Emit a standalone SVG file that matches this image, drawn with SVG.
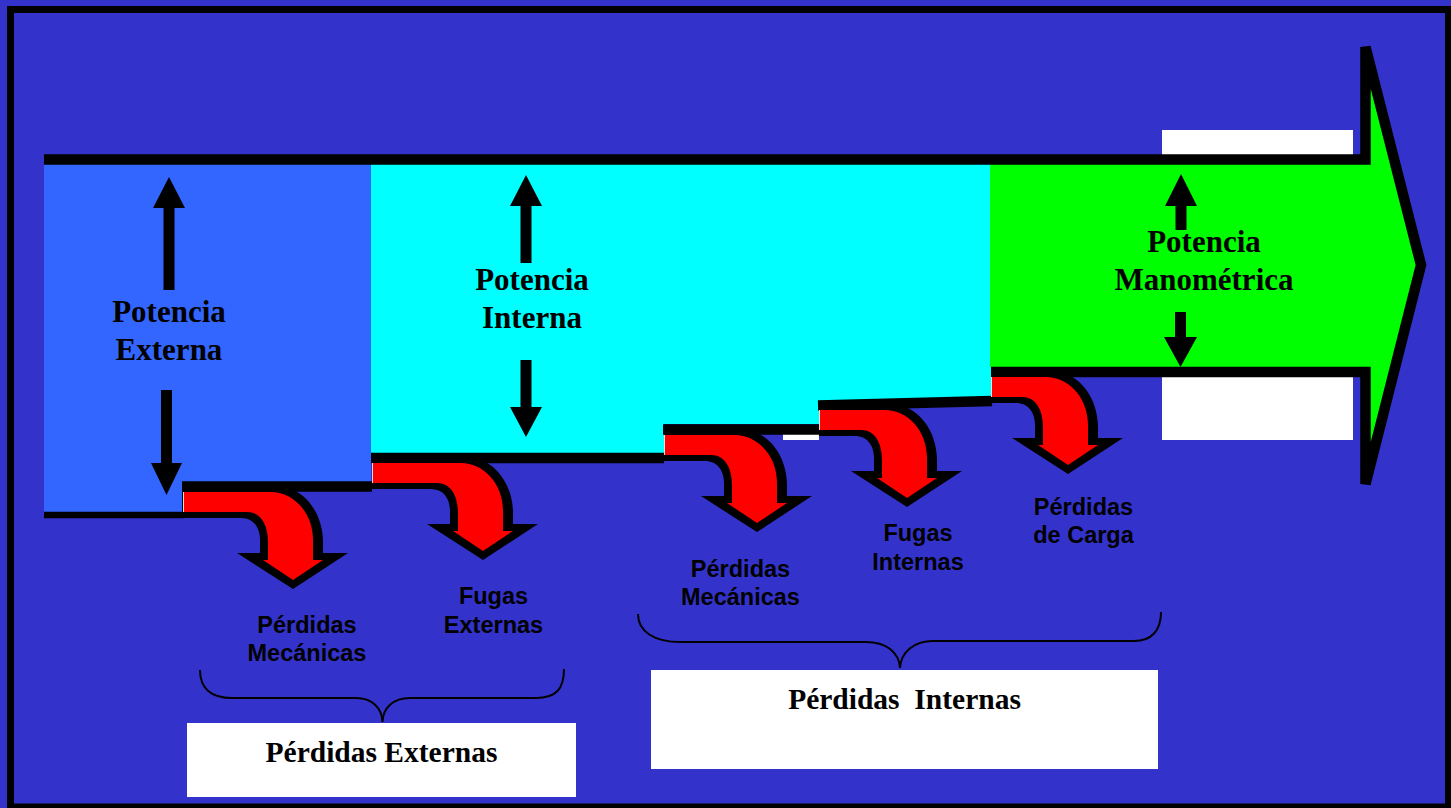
<svg xmlns="http://www.w3.org/2000/svg" width="1451" height="808" viewBox="0 0 1451 808">
<style>
.serif{font-family:"Liberation Serif","Times New Roman",serif;font-weight:bold;fill:#000;text-anchor:middle}
.big{font-size:31px}
.box{font-size:29.5px}
.sans{font-family:"Liberation Sans",Arial,sans-serif;font-weight:bold;font-size:23.5px;fill:#000;text-anchor:middle}
.blk{fill:#000}
.red{fill:#FF0000}
.edge{stroke:#E0E0E0;stroke-width:1}
.line{fill:none;stroke:#000;stroke-width:10.5;stroke-miterlimit:4}
.brace{fill:none;stroke:#000;stroke-width:2}
.wbox{fill:#FFFFFF}
</style>
<rect x="0" y="0" width="1451" height="808" fill="#3333CC"/>
<rect x="10.5" y="9.5" width="1438" height="797.5" fill="none" stroke="#000" stroke-width="7"/>

<g id="potencia-externa-region">
<polygon points="44,164 371,164 371,482 183,482 183,512 44,512" fill="#3366FF"/>
</g>
<g id="potencia-interna-region">
<polygon points="371,164 991,164 991,397 819,401 819,424 664,424 664,453 371,453" fill="#00FFFF"/>
</g>
<g id="potencia-manometrica-region">
<polygon points="990,164 1365,164 1365,47 1421,265 1365,484 1365,367 990,367" fill="#00FF00"/>
<rect class="wbox" x="1162" y="130" width="191" height="25"/>
<rect class="wbox" x="1162" y="377" width="191" height="63"/>
</g>
<rect class="wbox" x="783" y="434" width="36" height="6"/>

<g id="outline">
<path class="line" d="M44,159.5 L1365.5,159.5 L1365.5,47 L1421,265 L1365.5,484 L1365.5,372 L991,372"/>
<path class="line" d="M44,515 L184,515" style="stroke-width:6.5"/>
<path class="line" d="M182,486.5 L372,486.5"/>
<path class="line" d="M371,458 L664,458"/>
<path class="line" d="M663,429.5 L819,429.5"/>
<path class="line" d="M818,405.5 L992,401"/>
</g>

<g id="arrow-perdidas-mecanicas-ext" transform="translate(293,492)">
<path class="blk" d="M-111,-6 L-18,-6 C12,-6 30,22 30,50 L30,61 L55,61 L0,97 L-56,61 L-33,61 L-33,48 C-33,35 -40,26 -52,26 L-111,26 Z"/>
<path class="red" d="M-109,0 L-22,0 C0,0 20,20 20,48 L20,68 L30,68 L0,88 L-30,68 L-25,68 L-25,50 C-25,33 -32,20 -46,20 L-109,20 Z"/>
<line class="edge" x1="-109.5" y1="0" x2="-109.5" y2="20"/>
</g>
<g id="arrow-fugas-externas" transform="translate(483,463)">
<path class="blk" d="M-111,-6 L-18,-6 C12,-6 30,22 30,50 L30,61 L55,61 L0,97 L-56,61 L-33,61 L-33,48 C-33,35 -40,26 -52,26 L-111,26 Z"/>
<path class="red" d="M-110,0 L-22,0 C0,0 20,20 20,48 L20,68 L30,68 L0,88 L-30,68 L-25,68 L-25,50 C-25,33 -32,20 -46,20 L-110,20 Z"/>
<line class="edge" x1="-110.5" y1="0" x2="-110.5" y2="20"/>
</g>
<g id="arrow-perdidas-mecanicas-int" transform="translate(757,435)">
<path class="blk" d="M-93,-6 L-18,-6 C12,-6 30,22 30,50 L30,61 L55,61 L0,97 L-56,61 L-33,61 L-33,48 C-33,35 -40,26 -52,26 L-93,26 Z"/>
<path class="red" d="M-92,0 L-22,0 C0,0 20,20 20,48 L20,68 L30,68 L0,88 L-30,68 L-25,68 L-25,50 C-25,33 -32,20 -46,20 L-92,20 Z"/>
<line class="edge" x1="-92.5" y1="0" x2="-92.5" y2="20"/>
</g>
<g id="arrow-fugas-internas" transform="translate(907,410)">
<path class="blk" d="M-88,-6 L-18,-6 C12,-6 30,22 30,50 L30,61 L55,61 L0,97 L-56,61 L-33,61 L-33,48 C-33,35 -40,26 -52,26 L-88,26 Z"/>
<path class="red" d="M-87,0 L-22,0 C0,0 20,20 20,48 L20,68 L30,68 L0,88 L-30,68 L-25,68 L-25,50 C-25,33 -32,20 -46,20 L-87,20 Z"/>
<line class="edge" x1="-87.5" y1="0" x2="-87.5" y2="20"/>
</g>
<g id="arrow-perdidas-de-carga" transform="translate(1068,377)">
<path class="blk" d="M-77,-6 L-18,-6 C12,-6 30,22 30,50 L30,61 L55,61 L0,97 L-56,61 L-33,61 L-33,48 C-33,35 -40,26 -52,26 L-77,26 Z"/>
<path class="red" d="M-76,0 L-22,0 C0,0 20,20 20,48 L20,68 L30,68 L0,88 L-30,68 L-25,68 L-25,50 C-25,33 -32,20 -46,20 L-76,20 Z"/>
<line class="edge" x1="-76.5" y1="0" x2="-76.5" y2="20"/>
</g>

<g id="label-potencia-externa">
<polygon class="blk" points="169,177 185,208 174.5,208 174.5,290 163.5,290 163.5,208 153,208"/>
<polygon class="blk" points="161,390 172,390 172,463 182,463 166.5,495 151,463 161,463"/>
<text class="serif big" x="169" y="322">Potencia</text>
<text class="serif big" x="169" y="360">Externa</text>
</g>
<g id="label-potencia-interna">
<polygon class="blk" points="526,175 542,206 531.5,206 531.5,263 520.5,263 520.5,206 510,206"/>
<polygon class="blk" points="520.5,360 531.5,360 531.5,407 542,407 526,437 510,407 520.5,407"/>
<text class="serif big" x="532" y="290">Potencia</text>
<text class="serif big" x="532" y="328">Interna</text>
</g>
<g id="label-potencia-manometrica">
<polygon class="blk" points="1181,174 1197,206 1186.5,206 1186.5,230 1175.5,230 1175.5,206 1165,206"/>
<polygon class="blk" points="1175,312 1186,312 1186,337 1197,337 1180.5,367 1164,337 1175,337"/>
<text class="serif big" x="1204" y="252">Potencia</text>
<text class="serif big" x="1204" y="290">Manométrica</text>
</g>

<g id="label-perdidas-mecanicas-ext">
<text class="sans" x="307" y="632.5">Pérdidas</text>
<text class="sans" x="307" y="661">Mecánicas</text>
</g>
<g id="label-fugas-externas">
<text class="sans" x="493.5" y="604">Fugas</text>
<text class="sans" x="493.5" y="632.5">Externas</text>
</g>
<g id="label-perdidas-mecanicas-int">
<text class="sans" x="740.5" y="576.5">Pérdidas</text>
<text class="sans" x="740.5" y="605">Mecánicas</text>
</g>
<g id="label-fugas-internas">
<text class="sans" x="918" y="541">Fugas</text>
<text class="sans" x="918" y="569.5">Internas</text>
</g>
<g id="label-perdidas-de-carga">
<text class="sans" x="1083.5" y="514.5">Pérdidas</text>
<text class="sans" x="1083.5" y="543">de Carga</text>
</g>

<g id="connectors">
<path class="brace" d="M200,670 C200,689 212,698 232,698 L356,698 C372,698 382,708 382.5,722 C383,708 393,698 410,698 L536,698 C556,698 564,689 564,669"/>
<path class="brace" d="M638,614 C638,632 655,642 680,642 L866,642 C886,642 899,652 900,668 C901,652 914,641 933,641 L1134,641 C1152,641 1161,630 1161,612"/>
</g>

<g id="box-perdidas-externas">
<rect class="wbox" x="187" y="723" width="389" height="74"/>
<text class="serif box" x="381.5" y="762">Pérdidas Externas</text>
</g>
<g id="box-perdidas-internas">
<rect class="wbox" x="651" y="670" width="507" height="99"/>
<text class="serif box" x="904.5" y="709">Pérdidas&#160; Internas</text>
</g>
</svg>
